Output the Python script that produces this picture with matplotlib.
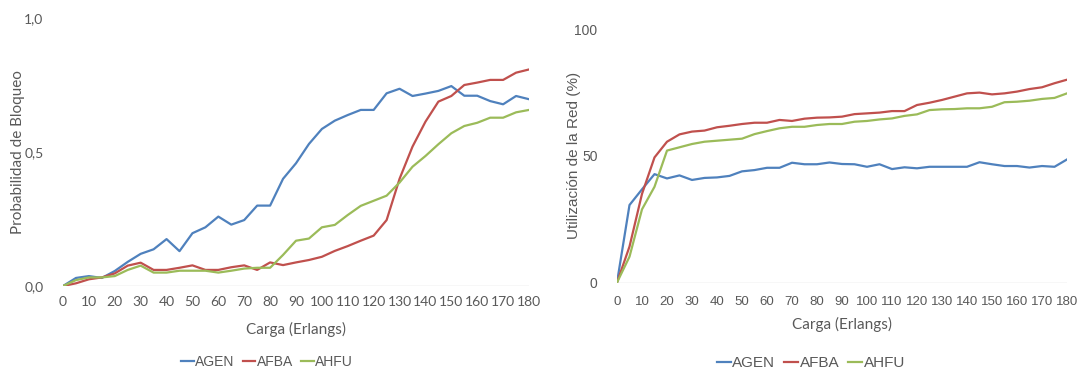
import matplotlib
matplotlib.use("Agg")
import matplotlib.pyplot as plt
from matplotlib.ticker import FuncFormatter

carga = list(range(0, 185, 5))

# Probabilidad de bloqueo
bloq_agen = [0.0, 0.03, 0.037, 0.03, 0.056, 0.09, 0.12, 0.137, 0.175, 0.13,
             0.197, 0.219, 0.259, 0.229, 0.246, 0.30, 0.30, 0.40, 0.458, 0.53,
             0.586, 0.617, 0.638, 0.657, 0.657, 0.719, 0.736, 0.709, 0.718, 0.728,
             0.746, 0.71, 0.71, 0.69, 0.678, 0.709, 0.697]
bloq_afba = [0.0, 0.01, 0.025, 0.032, 0.047, 0.076, 0.087, 0.06, 0.06, 0.068,
             0.077, 0.06, 0.06, 0.07, 0.077, 0.06, 0.088, 0.078, 0.088, 0.097,
             0.109, 0.131, 0.149, 0.169, 0.188, 0.246, 0.40, 0.52, 0.613, 0.688,
             0.709, 0.75, 0.759, 0.769, 0.769, 0.796, 0.808]
bloq_ahfu = [0.0, 0.022, 0.032, 0.032, 0.037, 0.06, 0.076, 0.05, 0.05, 0.057,
             0.057, 0.057, 0.05, 0.057, 0.065, 0.068, 0.068, 0.116, 0.169, 0.177,
             0.219, 0.228, 0.265, 0.299, 0.318, 0.337, 0.386, 0.445, 0.485, 0.529,
             0.57, 0.597, 0.609, 0.628, 0.628, 0.648, 0.657]

# Utilizacion de la red (%)
util_agen = [0, 30.6, 36.8, 42.8, 41.1, 42.3, 40.5, 41.3, 41.5, 42.1,
             43.9, 44.4, 45.3, 45.3, 47.3, 46.7, 46.7, 47.4, 46.8, 46.7,
             45.7, 46.7, 44.8, 45.5, 45.1, 45.7, 45.7, 45.7, 45.7, 47.5,
             46.7, 46.0, 46.0, 45.4, 46.0, 45.7, 48.6]
util_afba = [0, 14.2, 35.0, 49.4, 55.6, 58.5, 59.6, 60.0, 61.3, 61.9,
             62.6, 63.1, 63.1, 64.2, 63.8, 64.7, 65.1, 65.2, 65.5, 66.5,
             66.8, 67.1, 67.7, 67.7, 70.1, 71.0, 72.1, 73.4, 74.7, 75.0,
             74.3, 74.7, 75.4, 76.4, 77.1, 78.7, 80.1]
util_ahfu = [0, 10.2, 28.9, 37.8, 52.1, 53.4, 54.7, 55.6, 56.0, 56.4,
             56.8, 58.6, 59.8, 60.9, 61.5, 61.5, 62.2, 62.6, 62.6, 63.5,
             63.8, 64.4, 64.8, 65.8, 66.4, 68.1, 68.4, 68.5, 68.8, 68.8,
             69.4, 71.2, 71.4, 71.8, 72.5, 72.9, 74.7]

series = ["AGEN", "AFBA", "AHFU"]
colores = ["#4F81BD", "#C0504D", "#9BBB59"]
xticks = list(range(0, 190, 10))

gris = "#595959"
f_izq = ["Lato", "DejaVu Sans"]
f_der = ["Liberation Sans Narrow", "Liberation Sans", "DejaVu Sans"]

fig = plt.figure(figsize=(10.8, 3.72), dpi=100)


def preparar(ax, fam, xpad, ypad, xsize=10):
    for s in ax.spines.values():
        s.set_visible(False)
    ax.axhline(0, color="#D9D9D9", lw=1, zorder=0)
    ax.set_xlim(0, 180)
    ax.set_xticks(xticks)
    ax.tick_params(axis="both", length=0, colors=gris, labelsize=10)
    ax.tick_params(axis="x", pad=xpad, labelsize=xsize)
    ax.tick_params(axis="y", pad=ypad)
    for lab in ax.get_xticklabels() + ax.get_yticklabels():
        lab.set_family(fam)


def leyenda(handles, cx, cy, size):
    leg = fig.legend(handles, series, loc="center", bbox_to_anchor=(cx / 1080, 1 - cy / 372),
                     ncol=3, frameon=False, handlelength=0.9, handletextpad=0.1,
                     columnspacing=0.6, prop={"family": f_der, "size": size})
    for t in leg.get_texts():
        t.set_color(gris)


# grafico izquierdo
ax1 = fig.add_axes([63 / 1080, 1 - 286 / 372, 466 / 1080, 268 / 372])
for ys, c in zip([bloq_agen, bloq_afba, bloq_ahfu], colores):
    ax1.plot(carga, ys, color=c, lw=1.6)
ax1.set_ylim(0, 1.0)
ax1.set_yticks([0, 0.5, 1.0])
ax1.yaxis.set_major_formatter(FuncFormatter(lambda v, p: f"{v:.1f}".replace(".", ",")))
preparar(ax1, f_izq, 7, 14)
fig.text(18 / 1080, 1 - 152 / 372, "Probabilidad de Bloqueo", rotation=90,
         ha="center", va="center", fontsize=11, color=gris, family=f_izq)
fig.text(296 / 1080, 1 - 329 / 372, "Carga (Erlangs)", ha="center", va="center",
         fontsize=11, color=gris, family=f_izq)
leyenda(ax1.get_lines()[:3], 267, 362, 10)

# grafico derecho
ax2 = fig.add_axes([617 / 1080, 1 - 282.5 / 372, 450 / 1080, 253.2 / 372])
for ys, c in zip([util_agen, util_afba, util_ahfu], colores):
    ax2.plot(carga, ys, color=c, lw=1.6)
ax2.set_ylim(0, 100)
ax2.set_yticks([0, 50, 100])
preparar(ax2, f_der, 10, 14, xsize=9.5)
fig.text(574 / 1080, 1 - 155 / 372, "Utilización de la Red (%)", rotation=90,
         ha="center", va="center", fontsize=11, color=gris,
         family=["Liberation Sans", "DejaVu Sans"])
fig.text(842 / 1080, 1 - 324 / 372, "Carga (Erlangs)", ha="center", va="center",
         fontsize=11, color=gris, family=f_izq)
leyenda(ax2.get_lines()[:3], 811, 363, 11)

fig.savefig("out.png", dpi=100, facecolor="white")
